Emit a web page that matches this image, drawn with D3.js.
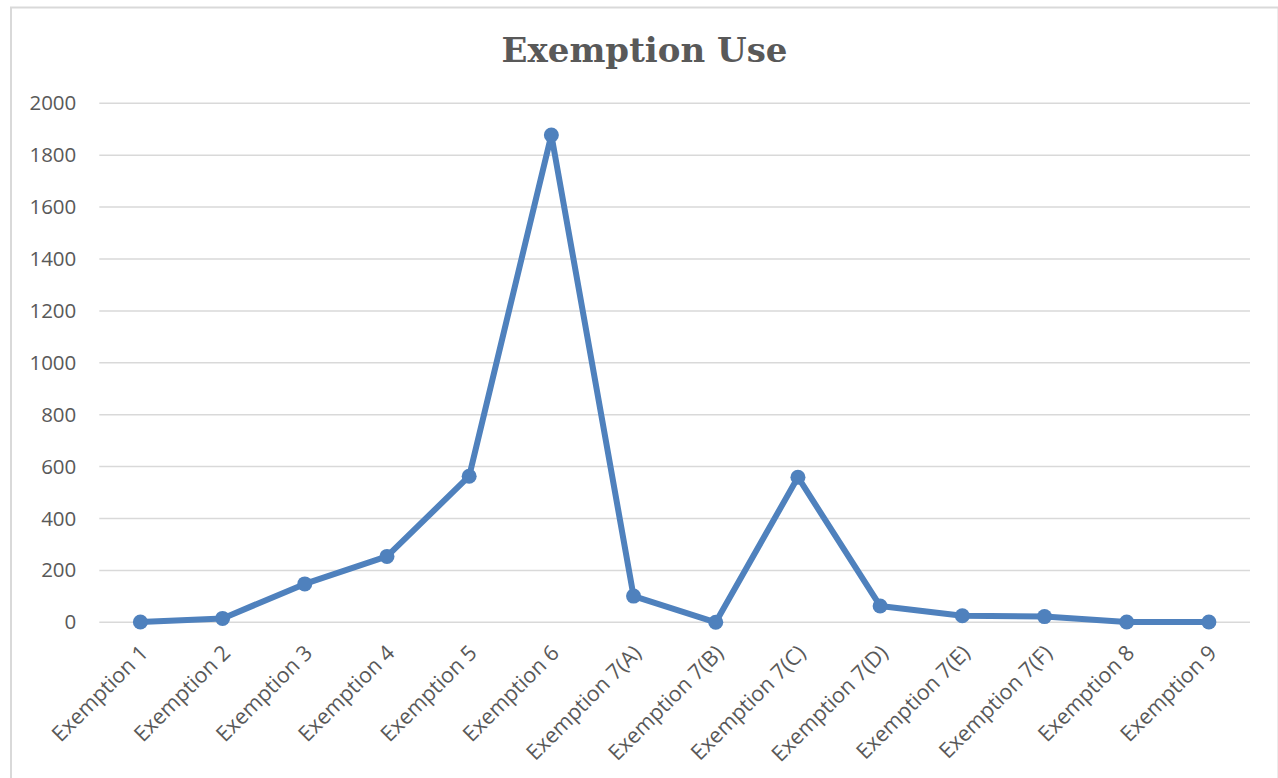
<!DOCTYPE html>
<html>
<head>
<meta charset="utf-8">
<script src="https://cdn.jsdelivr.net/npm/d3@7"></script>
<style>
  html, body { margin: 0; padding: 0; background: #fff; }
  svg { display: block; }
</style>
</head>
<body>
<svg id="chart" width="1278" height="778"></svg>
<script>
// Exemption categories and how often each was used
const categories = [
  "Exemption 1", "Exemption 2", "Exemption 3", "Exemption 4", "Exemption 5",
  "Exemption 6", "Exemption 7(A)", "Exemption 7(B)", "Exemption 7(C)",
  "Exemption 7(D)", "Exemption 7(E)", "Exemption 7(F)", "Exemption 8", "Exemption 9"
];
const uses = [1, 15, 148, 254, 563, 1878, 101, 0, 559, 63, 25, 22, 1, 1];
const yTicks = [0, 200, 400, 600, 800, 1000, 1200, 1400, 1600, 1800, 2000];
const chartTitle = "Exemption Use";

const svg = d3.select("#chart");
const W = 1278, H = 778;
const plot = { left: 99.3, right: 1250, top: 103.3, bottom: 622.3 };

// Chart frame
svg.append("rect")
  .attr("x", 11).attr("y", 7.5)
  .attr("width", W - 11 + 0.5).attr("height", H)
  .attr("fill", "#fff")
  .attr("stroke", "#d9d9d9").attr("stroke-width", 2);

const x = d3.scaleBand().domain(categories).range([plot.left, plot.right]).padding(0);
const y = d3.scaleLinear().domain([0, 2000]).range([plot.bottom, plot.top]);

// Horizontal gridlines
svg.append("g")
  .selectAll("line")
  .data(yTicks)
  .join("line")
  .attr("x1", plot.left).attr("x2", plot.right)
  .attr("y1", d => y(d)).attr("y2", d => y(d))
  .attr("stroke", "#d9d9d9").attr("stroke-width", 1.5);

const font = "'Open Sans', 'Noto Sans', sans-serif";

// Y axis labels
const yAxis = d3.axisLeft(y).tickValues(yTicks).tickFormat(d3.format("d"))
  .tickSize(0).tickPadding(23);
const yg = svg.append("g").attr("transform", `translate(${plot.left},0)`).call(yAxis);
yg.select(".domain").remove();
yg.selectAll("text")
  .attr("font-family", font).attr("font-size", 20.5).attr("fill", "#595959");

// X axis labels, rotated
const xAxis = d3.axisBottom(x).tickSize(0).tickPadding(0);
const xg = svg.append("g").attr("transform", `translate(0,${plot.bottom})`).call(xAxis);
xg.select(".domain").remove();
xg.selectAll("text")
  .attr("font-family", font).attr("font-size", 21.5).attr("fill", "#595959")
  .attr("text-anchor", "end")
  .attr("dy", null).attr("y", 0)
  .attr("transform", "translate(-4,19) rotate(-45)")
  .attr("dominant-baseline", "hanging");

const pts = categories.map((c, i) => ({ c, v: uses[i] }));
const cx = d => x(d.c) + x.bandwidth() / 2;

// Series line
svg.append("path")
  .datum(pts)
  .attr("fill", "none")
  .attr("stroke", "#4f81bd")
  .attr("stroke-width", 6)
  .attr("stroke-linejoin", "round")
  .attr("d", d3.line().x(cx).y(d => y(d.v)));

// Markers
svg.append("g")
  .selectAll("circle")
  .data(pts)
  .join("circle")
  .attr("cx", cx).attr("cy", d => y(d.v))
  .attr("r", 7.5)
  .attr("fill", "#4f81bd");

// Title
svg.append("text")
  .attr("x", 644.5).attr("y", 62)
  .attr("text-anchor", "middle")
  .attr("font-family", "'DejaVu Serif', serif")
  .attr("font-weight", "bold")
  .attr("font-size", 34)
  .attr("fill", "#595959")
  .text(chartTitle);
</script>
</body>
</html>
